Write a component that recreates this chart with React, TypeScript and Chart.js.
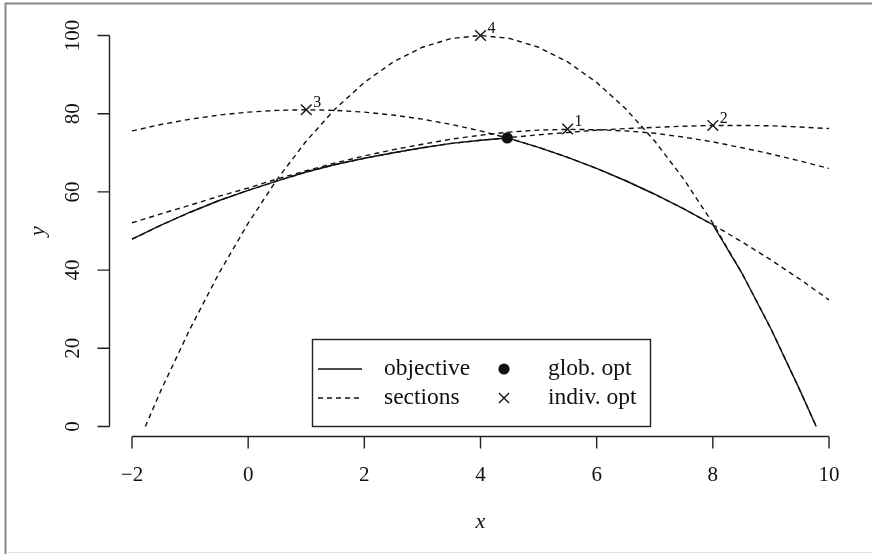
import React, { useEffect, useRef } from "react";
import { Chart, registerables } from "chart.js";

Chart.register(...registerables);

// ---- data ----
const xTicks = [-2, 0, 2, 4, 6, 8, 10];
const yTicks = [0, 20, 40, 60, 80, 100];

const gridX = [-2, -1.5, -1, -0.5, 0, 0.5, 1, 1.5, 2, 2.5, 3, 3.5, 4, 4.5, 5, 5.5, 6, 6.5, 7, 7.5, 8, 8.5, 9, 9.5, 10];

const objectiveX = [-2, -1.5, -1, -0.5, 0, 0.5, 1, 1.5, 2, 2.5, 3, 3.5, 4, 4.46, 5, 5.5, 6, 6.5, 7, 7.5, 8, 8.5, 9, 9.5, 9.78];
const objectiveY = [47.9, 51.5, 54.8, 57.8, 60.4, 62.8, 65.1, 67.0, 68.6, 70.0, 71.3, 72.4, 73.2, 73.8, 71.4, 68.85, 66.0, 62.85, 59.4, 55.65, 51.6, 39.25, 25.0, 9.25, 0];

const section1Y = [52.1, 54.4, 56.6, 58.9, 61.0, 63.3, 65.4, 67.4, 69.2, 70.8, 72.2, 73.5, 74.5, 75.3, 75.8, 76.0, 75.9, 75.6, 75.0, 74.0, 72.8, 71.3, 69.7, 67.9, 66.0];
const section2Y = [47.9, 51.5, 54.8, 57.8, 60.4, 62.8, 65.1, 67.0, 68.6, 70.0, 71.3, 72.4, 73.2, 73.9, 74.6, 75.2, 75.8, 76.2, 76.5, 76.8, 77.0, 77.0, 76.9, 76.6, 76.2];
const section3Y = [75.6, 77.25, 78.6, 79.65, 80.4, 80.85, 81.0, 80.85, 80.4, 79.65, 78.6, 77.25, 75.6, 73.65, 71.4, 68.85, 66.0, 62.85, 59.4, 55.65, 51.6, 47.25, 42.6, 37.65, 32.4];
const section4X = [-1.77, -1.5, -1, -0.5, 0, 0.5, 1, 1.5, 2, 2.5, 3, 3.5, 4, 4.5, 5, 5.5, 6, 6.5, 7, 7.5, 8, 8.5, 9, 9.5, 9.78];
const section4Y = [0, 9.3, 25, 39.25, 52, 63.25, 73, 81.25, 88, 93.25, 97, 99.25, 100, 99.25, 97, 93.25, 88, 81.25, 73, 63.25, 52, 39.25, 25, 9.25, 0];

const globalOptX = [4.46];
const globalOptY = [73.8];

const indivOptX = [5.5, 8, 1, 4];
const indivOptY = [76.1, 77, 81, 100];
const indivOptLabels = ["1", "2", "3", "4"];

const legendLabels = ["objective", "sections", "glob. opt", "indiv. opt"];

const SERIF = "'Liberation Serif', 'Times New Roman', serif";
const INK = "#111";

const pts = (xs: number[], ys: number[]) => xs.map((x, i) => ({ x, y: ys[i] }));

const rStylePlugin = {
  id: "rStyle",
  beforeDraw(chart: any) {
    const ctx = chart.ctx as CanvasRenderingContext2D;
    ctx.save();
    ctx.fillStyle = "#fff";
    ctx.fillRect(0, 0, chart.width, chart.height);
    ctx.strokeStyle = "#858585";
    ctx.lineWidth = 2;
    ctx.beginPath();
    ctx.moveTo(5.5, chart.height);
    ctx.lineTo(5.5, 3.5);
    ctx.lineTo(chart.width, 3.5);
    ctx.stroke();
    ctx.strokeStyle = "#e4e4e4";
    ctx.lineWidth = 1;
    ctx.beginPath();
    ctx.moveTo(6, 552.5);
    ctx.lineTo(chart.width, 552.5);
    ctx.stroke();
    ctx.restore();
  },
  afterDraw(chart: any) {
    const ctx = chart.ctx as CanvasRenderingContext2D;
    const xs = chart.scales.x;
    const ys = chart.scales.y;
    const area = chart.chartArea;
    ctx.save();
    ctx.strokeStyle = "#222";
    ctx.fillStyle = INK;
    ctx.lineWidth = 1.4;
    ctx.setLineDash([]);

    // x axis
    const xa = Math.round(area.bottom) + 0.5;
    ctx.beginPath();
    ctx.moveTo(xs.getPixelForValue(xTicks[0]), xa);
    ctx.lineTo(xs.getPixelForValue(xTicks[xTicks.length - 1]), xa);
    for (const t of xTicks) {
      const px = xs.getPixelForValue(t);
      ctx.moveTo(px, xa);
      ctx.lineTo(px, xa + 12);
    }
    ctx.stroke();
    ctx.font = `21px ${SERIF}`;
    ctx.textAlign = "center";
    ctx.textBaseline = "middle";
    for (const t of xTicks) {
      const lbl = t < 0 ? "\u2212" + Math.abs(t) : String(t);
      ctx.fillText(lbl, xs.getPixelForValue(t), xa + 39);
    }

    // y axis
    const ya = Math.round(area.left) + 0.5;
    ctx.beginPath();
    ctx.moveTo(ya, ys.getPixelForValue(yTicks[0]));
    ctx.lineTo(ya, ys.getPixelForValue(yTicks[yTicks.length - 1]));
    for (const t of yTicks) {
      const py = ys.getPixelForValue(t);
      ctx.moveTo(ya, py);
      ctx.lineTo(ya - 12, py);
    }
    ctx.stroke();
    for (const t of yTicks) {
      ctx.save();
      ctx.translate(ya - 36, ys.getPixelForValue(t));
      ctx.rotate(-Math.PI / 2);
      ctx.fillText(String(t), 0, 0);
      ctx.restore();
    }

    // axis titles
    ctx.font = `italic 22px ${SERIF}`;
    ctx.fillText("x", (area.left + area.right) / 2, 522);
    ctx.save();
    ctx.translate(38, (area.top + area.bottom) / 2);
    ctx.rotate(-Math.PI / 2);
    ctx.fillText("y", 0, 0);
    ctx.restore();

    // labels of individual optima
    ctx.font = `16px ${SERIF}`;
    ctx.textAlign = "left";
    indivOptX.forEach((x, i) => {
      ctx.fillText(indivOptLabels[i], xs.getPixelForValue(x) + 7, ys.getPixelForValue(indivOptY[i]) - 7);
    });

    // legend
    const L = 312.5, T = 339.5, R = 650.5, B = 426.5;
    ctx.fillStyle = "#fff";
    ctx.fillRect(L, T, R - L, B - T);
    ctx.strokeStyle = "#222";
    ctx.lineWidth = 1.4;
    ctx.strokeRect(L, T, R - L, B - T);
    const row1 = 369, row2 = 398;
    ctx.strokeStyle = INK;
    ctx.beginPath();
    ctx.moveTo(318, row1);
    ctx.lineTo(362, row1);
    ctx.stroke();
    ctx.setLineDash([5, 4]);
    ctx.beginPath();
    ctx.moveTo(318, row2);
    ctx.lineTo(362, row2);
    ctx.stroke();
    ctx.setLineDash([]);
    ctx.fillStyle = INK;
    ctx.beginPath();
    ctx.arc(504, row1, 5.6, 0, Math.PI * 2);
    ctx.fill();
    ctx.beginPath();
    ctx.moveTo(499, row2 - 5);
    ctx.lineTo(509, row2 + 5);
    ctx.moveTo(509, row2 - 5);
    ctx.lineTo(499, row2 + 5);
    ctx.stroke();
    ctx.font = `23.5px ${SERIF}`;
    ctx.textAlign = "left";
    ctx.textBaseline = "middle";
    ctx.fillText(legendLabels[0], 384, row1);
    ctx.fillText(legendLabels[1], 384, row2);
    ctx.fillText(legendLabels[2], 548, row1);
    ctx.fillText(legendLabels[3], 548, row2);
    ctx.restore();
  },
};

export default function App() {
  const ref = useRef<HTMLCanvasElement | null>(null);
  useEffect(() => {
    if (!ref.current) return;
    const dashed = {
      borderColor: INK,
      borderWidth: 1.4,
      borderDash: [5, 4],
      pointRadius: 0,
      tension: 0,
      fill: false,
      showLine: true,
    };
    const chart = new Chart(ref.current, {
      type: "scatter",
      data: {
        datasets: [
          { label: "section 1", data: pts(gridX, section1Y), ...dashed },
          { label: "section 2", data: pts(gridX, section2Y), ...dashed },
          { label: "section 3", data: pts(gridX, section3Y), ...dashed },
          { label: "section 4", data: pts(section4X, section4Y), ...dashed },
          {
            label: "objective",
            data: pts(objectiveX, objectiveY),
            borderColor: INK,
            borderWidth: 1.4,
            pointRadius: 0,
            tension: 0,
            fill: false,
            showLine: true,
          },
          {
            label: "glob. opt",
            data: pts(globalOptX, globalOptY),
            pointStyle: "circle",
            pointRadius: 5.6,
            backgroundColor: INK,
            borderColor: INK,
            borderWidth: 0,
            showLine: false,
          },
          {
            label: "indiv. opt",
            data: pts(indivOptX, indivOptY),
            pointStyle: "crossRot",
            pointRadius: 7.5,
            borderColor: INK,
            borderWidth: 1.4,
            showLine: false,
          },
        ],
      } as any,
      options: {
        animation: false,
        responsive: false,
        devicePixelRatio: 1,
        layout: { padding: { left: 109, right: 20, top: 26, bottom: 118 } },
        scales: {
          x: { type: "linear", min: -2.396, max: 10.396, display: false },
          y: { type: "linear", min: -2.43, max: 102.43, display: false },
        },
        plugins: { legend: { display: false }, tooltip: { enabled: false } },
        events: [],
      } as any,
      plugins: [rStylePlugin],
    });
    return () => chart.destroy();
  }, []);
  return (
    <div style={{ position: "absolute", left: 0, top: 0, width: 872, height: 554 }}>
      <canvas ref={ref} width={872} height={554} style={{ display: "block", width: 872, height: 554 }} />
    </div>
  );
}
